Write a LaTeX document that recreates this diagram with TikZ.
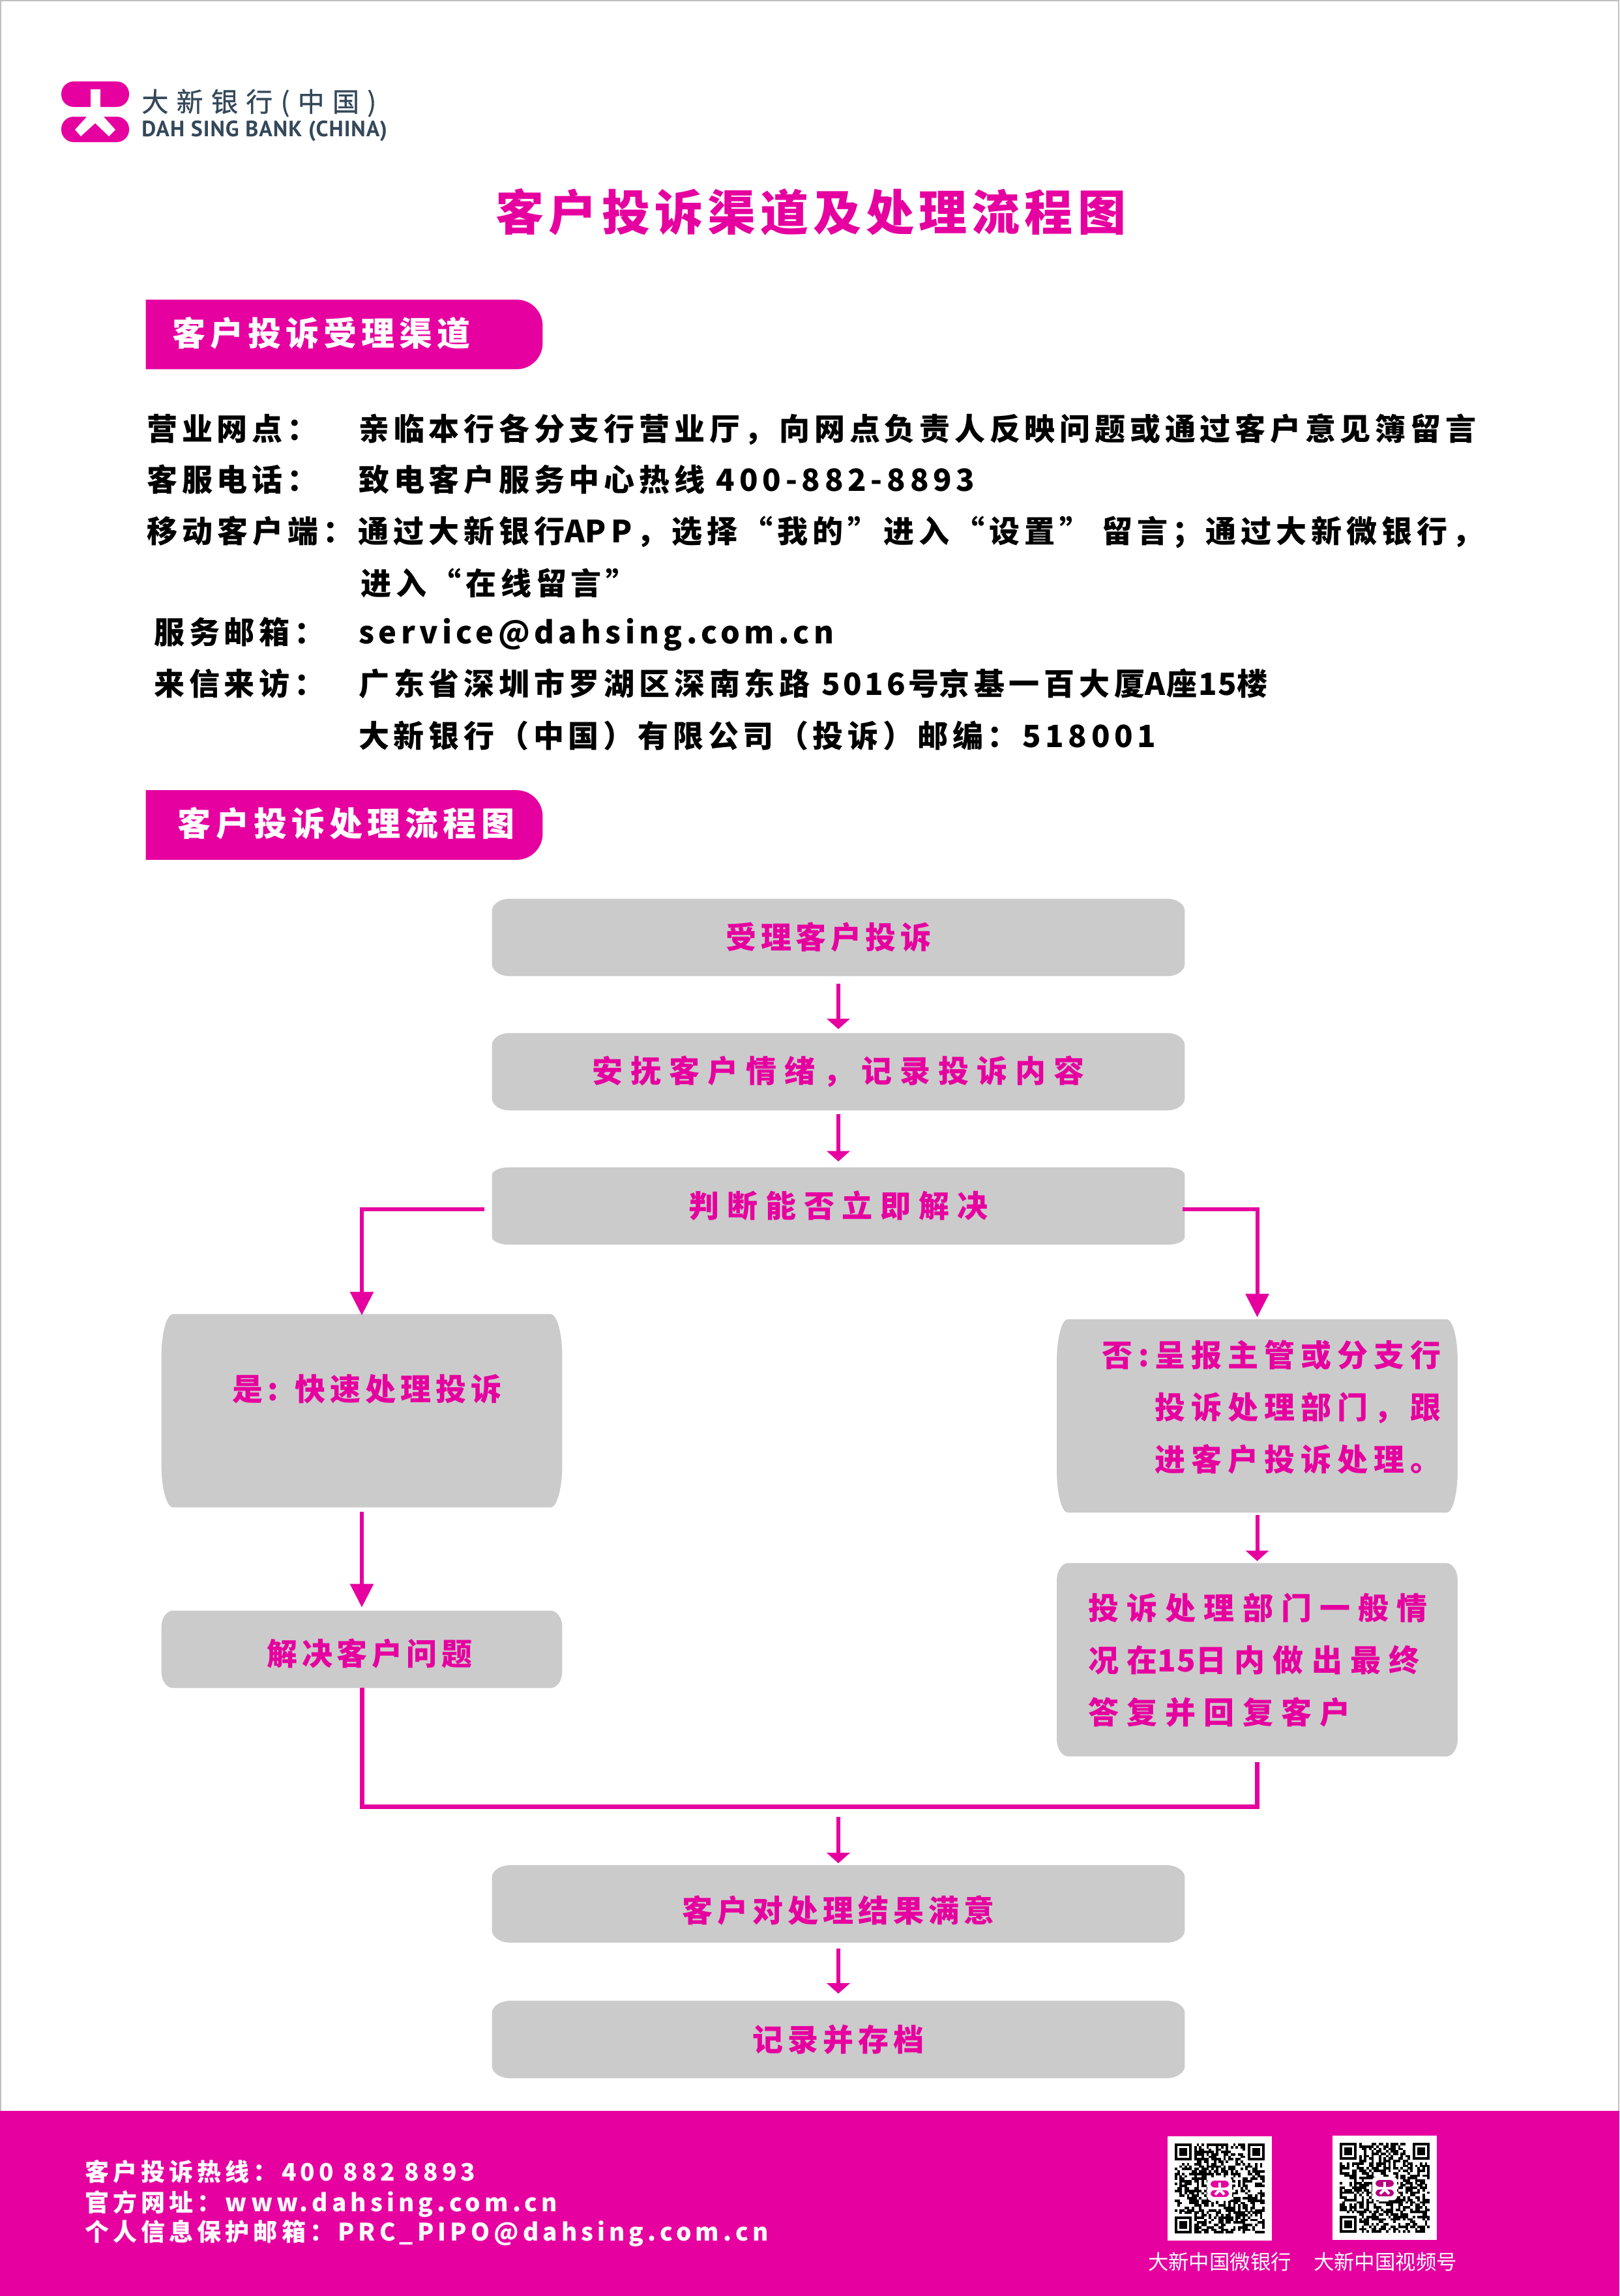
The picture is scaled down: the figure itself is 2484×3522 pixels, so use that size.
\documentclass[tikz,border=0pt]{standalone}
\usepackage{fontspec}
\setmainfont{Noto Sans CJK SC}
\newfontfamily\latinlogo{PT Sans}
\usetikzlibrary{arrows.meta,backgrounds}
\definecolor{bankpink}{HTML}{E6009F}
\definecolor{boxgrey}{HTML}{CBCBCB}
\definecolor{logoslate}{HTML}{34485A}
\newcommand{\zcomma}{\symbol{"FF0C}}
\newcommand{\zcolon}{\symbol{"FF1A}}
\newcommand{\zsemi}{\symbol{"FF1B}}
\newcommand{\zleft}{\symbol{"FF08}}
\newcommand{\zright}{\symbol{"FF09}}
\newcommand{\boldtext}[3]{\bfseries\fontsize{#1pt}{#2pt}\selectfont\addfontfeature{LetterSpace=#3}}
\newcommand{\tight}[1]{{\addfontfeature{LetterSpace=4}#1}}
\newcommand{\nudged}[3]{\hspace*{#1pt}\raisebox{\dimexpr#2pt-8.5pt\relax}[0pt][0pt]{#3}}
\newcommand{\bankmark}[5]{
	\begin{scope}[shift={(#1,#2)},scale=#3]
		\fill[#4,rounded corners=#5] (0,0) rectangle (104,39);
		\fill[#4,rounded corners=#5] (0,54) rectangle (104,93);
		\fill[white] (44.5,12) rectangle (59.5,39.5);
		\fill[white] (40,53) -- (21,74) -- (30,84) -- (52,64) -- (73,84) -- (83,74) -- (64,53) -- cycle;
	\end{scope}
}
\newcommand{\finder}[2]{
	\fill[black] (#1,#2) rectangle ++(26,26);
	\fill[white] (#1+3.7,#2+3.7) rectangle ++(18.6,18.6);
	\fill[black] (#1+7.4,#2+7.4) rectangle ++(11.2,11.2);
}
\newcommand{\qrblock}[4]{
	\pgfmathsetseed{#3}
	\fill[white] (#1-11,#2-11) rectangle ++(160,160);
	\foreach \r in {0,...,36} {
		\foreach \c in {0,...,36} {
			\pgfmathrandominteger{\bit}{0}{99}
			\pgfmathtruncatemacro{\skip}{((\r<8 && \c<8) || (\r<8 && \c>28) || (\r>28 && \c<8)) ? 1 : 0}
			\ifnum\skip=0
				\ifnum\bit<52
					\fill[black] (#1+\c*3.73,#2+\r*3.73) rectangle ++(3.8,3.8);
				\fi
			\fi
		}
	}
	\finder{#1}{#2}
	\finder{#1+112}{#2}
	\finder{#1}{#2+112}
	\fill[white,rounded corners=3pt] (#1+50,#2+52) rectangle ++(38,36);
	\bankmark{#1+55}{#2+57}{0.27}{#4}{3pt}
}

\begin{document}
\begin{tikzpicture}[x=0.5pt,y=-0.5pt,node distance=103pt,>={Triangle[width=17.5pt,length=18pt]},
	flowline/.style={line width=3pt,draw=bankpink},
	shorthead/.style={>={Triangle[width=17.5pt,length=8pt]}},
	flowbox/.style={minimum width=531pt,minimum height=59pt,inner sep=0pt,text=bankpink},
	sidebox/.style={minimum width=307pt,minimum height=#1,inner sep=0pt,text=bankpink},
	flowtext/.style={font=\boldtext{23.5}{40}{#1}},
	sectionbar/.style={minimum width=304pt,minimum height=53pt,inner sep=0pt,text=white,font=\boldtext{25.5}{30}{14}},
	bodytext/.style={anchor=west,inner sep=0pt,text height=20.7pt,text depth=2.8pt,font=\boldtext{23.5}{30}{#1}},
	foottext/.style={anchor=west,inner sep=0pt,text=white,text height=16.3pt,text depth=2.2pt,font=\boldtext{18.5}{22}{#1}},
	qrlabel/.style={inner sep=0pt,text=white,font=\fontsize{15.7}{18}\selectfont}]

	\useasboundingbox (0,0) rectangle (2484,3522);
	\draw[black!25,line width=0.8pt] (1,1) rectangle (2483,3521);

	\bankmark{94}{125}{1}{bankpink}{9.5pt}
	\node[anchor=west,inner sep=0pt,text=logoslate,font=\fontsize{20.5}{24}\selectfont\addfontfeature{LetterSpace=30,FakeBold=0.8}] (bankcn) at (217,158) {大新银行(中国)};
	\node[anchor=west,inner sep=0pt,text=logoslate,font=\latinlogo\bfseries\fontsize{17}{20}\selectfont\addfontfeature{LetterSpace=3}] (banken) at (217,201) {DAH SING BANK (CHINA)};

	\node[text=bankpink,inner sep=0pt,font=\boldtext{37}{44}{9.6}] (title) at (1244,325) {客户投诉渠道及处理流程图};

	\node[sectionbar] (channels) at (528,513) {\nudged{-35}{0}{客户投诉受理渠道}};

	\node[bodytext=14.4] (outletkey) at (225,658) {营业网点\zcolon{}};
	\node[bodytext=14.4] (outletval) at (550,658) {亲临本行各分支行营业厅\zcomma{}向网点负责人反映问题或通过客户意见簿留言};
	\node[bodytext=14.4] (phonekey) at (225,736) {客服电话\zcolon{}};
	\node[bodytext=14.4] (phoneval) at (550,736) {致电客户服务中心热线 400-882-8893};
	\node[bodytext=15] (appline) at (225,815) {移动客户端\zcolon{}通过大新银行\tight{A}PP\zcomma{}选择“我的”进入“设置” 留言\zsemi{}\hspace{2pt}通过大新微银行\zcomma{}};
	\node[bodytext=14.4] (appmore) at (553,895) {进入“在线留言”};
	\node[bodytext=14.4] (mailkey) at (236,970) {服务邮箱\zcolon{}};
	\node[bodytext=13.5] (mailval) at (550,970) {service@dahsing.com.cn};
	\node[bodytext=14.4] (postkey) at (236,1049) {来信来访\zcolon{}};
	\node[bodytext=14.4] (postval) at (550,1049) {广东省深圳市罗湖区深南东路 {\addfontfeature{LetterSpace=10}5016号}京基一百大厦\tight{A座15}楼};
	\node[bodytext=14] (postmore) at (550,1129) {大新银行\zleft{}中国\zright{}有限公司\zleft{}投诉\zright{}邮编\zcolon{}518001};

	\node[sectionbar] (process) at (528,1265.5) {\nudged{3}{0}{客户投诉处理流程图}};

	\node[flowbox,flowtext=14] (accept) at (1286,1438) {\nudged{-15}{0}{受理客户投诉}};
	\node[flowbox,flowtext=25.4] (calm) [below of=accept] {安抚客户情绪\zcomma{}记录投诉内容};
	\node[flowbox,flowtext=25] (judge) [below of=calm] {判断能否立即解决};
	\node[sidebox=148pt,flowtext=15] (yes) at (555,2164) {\nudged{8}{16.5}{是:\hspace{13pt}快速处理投诉}};
	\node[sidebox=59pt,flowtext=14] (solve) at (555,2530) {\nudged{12}{-3.5}{解决客户问题}};
	\node[sidebox=148pt,flowtext=19] (no) at (1928.5,2172) {\nudged{22}{8}{\begin{tabular}{@{}l@{}}否:呈报主管或分支行\\\hspace*{40.5pt}投诉处理部门\zcomma{}跟\\\hspace*{40.5pt}进客户投诉处理。\end{tabular}}};
	\node[sidebox=148pt,flowtext=26] (report) at (1928.5,2546) {\nudged{1}{1}{\begin{tabular}{@{}l@{}}投诉处理部门一般情\\况在\tight{15}日内做出最终\\答复并回复客户\end{tabular}}};
	\coordinate (merge) at (1286,2771);
	\node[flowbox,flowtext=15] (satisfied) at (1286,2920.5) {\nudged{0}{-5.5}{客户对处理结果满意}};
	\node[flowbox,flowtext=15] (archive) [below of=satisfied,node distance=104pt] {记录并存档};

	\begin{scope}[on background layer]
		\foreach \n/\rx/\ry in {accept/13.5/9.5,calm/13.5/9.5,judge/13.5/6,yes/9/32.5,solve/9/12.5,no/8.5/32,report/9/13,satisfied/14/9.5,archive/14/9.5}
			\fill[boxgrey] ([xshift=\rx pt]\n.north west) -- ([xshift=-\rx pt]\n.north east)
				arc[start angle=90,end angle=0,x radius=\rx pt,y radius=\ry pt]
				-- ([yshift=\ry pt]\n.south east)
				arc[start angle=0,end angle=-90,x radius=\rx pt,y radius=\ry pt]
				-- ([xshift=\rx pt]\n.south west)
				arc[start angle=270,end angle=180,x radius=\rx pt,y radius=\ry pt]
				-- ([yshift=-\ry pt]\n.north west)
				arc[start angle=180,end angle=90,x radius=\rx pt,y radius=\ry pt] -- cycle;
		\foreach \n in {channels,process}
			\fill[bankpink] (\n.north west) -- ([xshift=-20pt]\n.north east)
				arc[start angle=90,end angle=0,radius=20pt]
				-- ([yshift=20pt]\n.south east)
				arc[start angle=0,end angle=-90,radius=20pt]
				-- (\n.south west) -- cycle;
	\end{scope}

	\path
	(accept.south) edge [flowline,shorthead,->,shorten <=6pt,shorten >=3pt] (calm.north)
	(calm.south) edge [flowline,shorthead,->,shorten <=3pt,shorten >=4.5pt] (judge.north)
	(yes.south) edge [flowline,->,shorten <=3.5pt,shorten >=2.5pt] (solve.north)
	(no.south) edge [flowline,shorthead,->,shorten <=2pt,shorten >=1.5pt] (report.north)
	(merge) edge [flowline,shorthead,->,shorten <=8pt,shorten >=1.5pt] (satisfied.north)
	(satisfied.south) edge [flowline,shorthead,->,shorten <=4.5pt,shorten >=5.5pt] (archive.north);
	\draw[flowline,->,shorten <=6pt,shorten >=-1pt] ([yshift=-2.5pt]judge.west) -| (yes.north);
	\draw[flowline,->,shorten <=-1.5pt,shorten >=1.5pt] ([yshift=-2.5pt]judge.east) -| (no.north);
	\draw[flowline,line width=3.5pt,shorten >=4.5pt] (solve.south) |- (merge) -| (report.south);

	\fill[bankpink] (0,3238) rectangle (2484,3522);
	\node[foottext=16.5] (hotline) at (130,3331) {客户投诉热线\zcolon{}400 882 8893};
	\node[foottext=16.5] (website) at (130,3378) {官方网址\zcolon{}www.dahsing.com.cn};
	\node[foottext=16.5] (privacy) at (130,3423) {个人信息保护邮箱\zcolon{}PRC\_PIPO@dahsing.com.cn};
	\qrblock{1802}{3288}{7}{bankpink}
	\qrblock{2055}{3287}{23}{black!20!bankpink}
	\node[qrlabel] (wechat) at (1871,3470) {大新中国微银行};
	\node[qrlabel] (video) at (2125,3470) {大新中国视频号};
\end{tikzpicture}
\end{document}
